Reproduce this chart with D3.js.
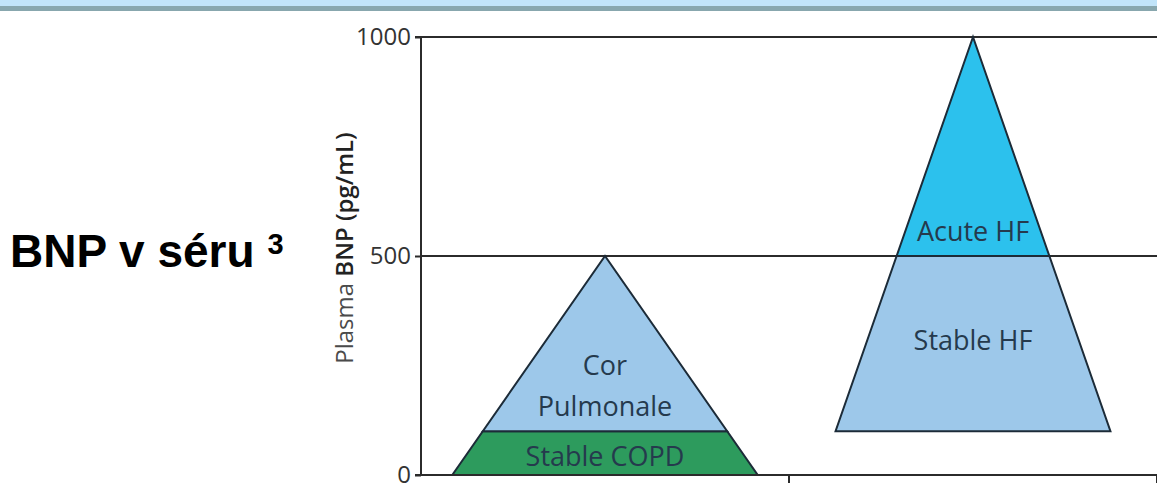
<!DOCTYPE html>
<html>
<head>
<meta charset="utf-8">
<script src="https://cdn.jsdelivr.net/npm/d3@7"></script>
<style>
  html, body { margin: 0; padding: 0; background: #ffffff; }
  svg { display: block; }
</style>
</head>
<body>
<svg id="chart" width="1157" height="485"></svg>
<script>
// Patient groups along the x axis
const groups = ["COPD", "HF"];
// Peak plasma BNP of each group's pyramid (pg/mL)
const groupPeak = [500, 1000];

// Stacked layers inside the pyramids
const layerGroup = ["COPD", "COPD", "HF", "HF"];
const layerName  = [["Stable COPD"], ["Cor", "Pulmonale"], ["Stable HF"], ["Acute HF"]];
const layerLow   = [0, 100, 100, 500];
const layerHigh  = [100, 500, 500, 1000];

const yTicks = [0, 500, 1000];

// Fill colour per layer and where the label sits within its layer
const layerFill  = ["#2d9b5d", "#9dc8ea", "#9dc8ea", "#2cc1ed"];
const labelFrac  = [0.41, 0.26, 0.52, 0.11];

const svg = d3.select("#chart");
const W = 1157, H = 485;

// header bands
svg.append("rect").attr("x", 0).attr("y", 0).attr("width", W).attr("height", 6).attr("fill", "#c1e4f9");
svg.append("rect").attr("x", 0).attr("y", 6).attr("width", W).attr("height", 5).attr("fill", "#88a7ae");

// slide title
const title = svg.append("text")
  .attr("x", 10).attr("y", 267)
  .attr("font-family", "Liberation Sans, Arial, sans-serif")
  .attr("font-weight", "bold")
  .attr("font-size", 46)
  .attr("fill", "#000");
title.append("tspan").text("BNP v séru ");
title.append("tspan").attr("font-size", 29).attr("dy", -13).text("3");

const plotLeft = 421, plotRight = 1157, plotTop = 37, plotBottom = 475;

const x = d3.scaleBand().domain(groups).range([plotLeft, plotRight]).padding(0);
const y = d3.scaleLinear().domain([0, 1000]).range([plotBottom, plotTop]);

const font = "'Open Sans', sans-serif";
const axisColor = "#2b2b2b";

// horizontal reference lines
svg.append("g").selectAll("line")
  .data(yTicks.filter(v => v > 0))
  .join("line")
  .attr("x1", plotLeft).attr("x2", plotRight)
  .attr("y1", d => y(d)).attr("y2", d => y(d))
  .attr("stroke", axisColor).attr("stroke-width", 2);

// pyramids
const baseHalf = x.bandwidth() * 0.83 / 2;
function halfWidthAt(g, v) {
  const peak = groupPeak[groups.indexOf(g)];
  return baseHalf * (peak - v) / peak;
}
const layers = layerGroup.map((g, i) => ({
  g, name: layerName[i], lo: layerLow[i], hi: layerHigh[i], fill: layerFill[i], frac: labelFrac[i]
}));

const pyr = svg.append("g");
pyr.selectAll("path")
  .data(layers)
  .join("path")
  .attr("d", d => {
    const cx = x(d.g) + x.bandwidth() / 2;
    const wl = halfWidthAt(d.g, d.lo), wh = halfWidthAt(d.g, d.hi);
    const pts = [[cx - wl, y(d.lo)], [cx + wl, y(d.lo)], [cx + wh, y(d.hi)], [cx - wh, y(d.hi)]];
    return d3.line()(pts) + "Z";
  })
  .attr("fill", d => d.fill)
  .attr("stroke", "#1c2b38")
  .attr("stroke-width", 2)
  .attr("stroke-linejoin", "miter");

// layer labels
const lineH = 41;
pyr.selectAll("text")
  .data(layers)
  .join("text")
  .attr("font-family", font)
  .attr("font-size", 27)
  .attr("fill", "#253a4d")
  .attr("text-anchor", "middle")
  .each(function (d) {
    const cx = x(d.g) + x.bandwidth() / 2;
    const cy = y(d.lo + (d.hi - d.lo) * d.frac);
    const n = d.name.length;
    d3.select(this).selectAll("tspan")
      .data(d.name)
      .join("tspan")
      .attr("x", cx)
      .attr("y", (t, k) => cy + (k - (n - 1) / 2) * lineH)
      .attr("dy", "0.35em")
      .text(t => t);
  });

// y axis
const yAxis = svg.append("g")
  .attr("transform", `translate(${plotLeft},0)`)
  .call(d3.axisLeft(y).tickValues(yTicks).tickSize(6).tickPadding(4).tickFormat(d3.format("d")));
yAxis.select(".domain").attr("stroke", axisColor).attr("stroke-width", 2).attr("d", `M-6,${plotBottom}H0V${plotTop}H-6`);
yAxis.selectAll(".tick line").attr("stroke", axisColor).attr("stroke-width", 2);
yAxis.selectAll(".tick text").attr("font-family", font).attr("font-size", 24).attr("fill", "#333");

// x axis (band boundaries as ticks)
const xAxis = svg.append("g").attr("transform", `translate(0,${plotBottom})`);
xAxis.append("line").attr("x1", plotLeft).attr("x2", plotRight).attr("y1", 0).attr("y2", 0)
  .attr("stroke", axisColor).attr("stroke-width", 2);
xAxis.selectAll("line.tick")
  .data(groups)
  .join("line")
  .attr("class", "tick")
  .attr("x1", d => x(d) + x.bandwidth()).attr("x2", d => x(d) + x.bandwidth())
  .attr("y1", 0).attr("y2", 8)
  .attr("stroke", axisColor).attr("stroke-width", 2);

// y axis title
const yt = svg.append("text")
  .attr("transform", `translate(353,248) rotate(-90)`)
  .attr("text-anchor", "middle")
  .attr("font-family", font)
  .attr("font-size", 24)
  .attr("fill", "#4a4a4a");
yt.append("tspan").text("Plasma ");
yt.append("tspan").attr("font-weight", 600).attr("fill", "#222").text("BNP (pg/mL)");
</script>
</body>
</html>
